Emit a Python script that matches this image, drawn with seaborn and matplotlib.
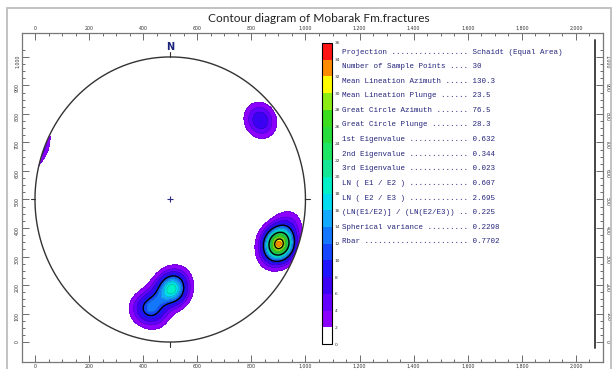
import numpy as np
import pandas as pd
import matplotlib
matplotlib.use("Agg")
import matplotlib.pyplot as plt
import matplotlib.ticker as mticker
from matplotlib.colors import ListedColormap, BoundaryNorm
from matplotlib.lines import Line2D
from matplotlib.patches import Circle, Rectangle
import seaborn as sns

# ---------------------------------------------------------------- data
title = "Contour diagram of Mobarak Fm.fractures"

# projected fracture poles, net units (centre 500,500, primitive radius 500)
pole_x = [903, 900, 907, 905, 899, 896, 910, 886, 922, 915, 882, 938, 874, 912,
          505, 510, 500, 515, 495, 520, 530, 430, 415, 448, 395, 445, 462,
          822, 833, 845]
pole_y = [348, 344, 352, 345, 351, 338, 358, 315, 382, 342, 352, 418, 302, 328,
          185, 190, 180, 192, 200, 165, 220, 125, 112, 138, 118, 92, 160,
          795, 778, 760]

stat_names = ["Projection", "Number of Sample Points", "Mean Lineation Azimuth",
              "Mean Lineation Plunge", "Great Circle Azimuth", "Great Circle Plunge",
              "1st Eigenvalue", "2nd Eigenvalue", "3rd Eigenvalue",
              "LN ( E1 / E2 )", "LN ( E2 / E3 )", "(LN(E1/E2)] / (LN(E2/E3))",
              "Spherical variance", "Rbar"]
stat_values = ["Schaidt (Equal Area)", "30", "130.3", "23.5", "76.5", "28.3",
               "0.632", "0.344", "0.023", "0.607", "2.695", "0.225",
               "0.2298", "0.7702"]

contour_levels = list(range(0, 38, 2))
band_colors = ["#ffffff", "#8c00ff", "#6400ff", "#3c00f5", "#1e14ff", "#1446ff",
               "#1478ff", "#14aaff", "#00dcf0", "#00f0c8", "#14e696", "#1ee664",
               "#28dc3c", "#3cdc1e", "#8cec14", "#ffff00", "#ff8c00", "#ff1414"]
bold_levels = [10, 20, 30]

# ---------------------------------------------------------------- figure
W, H = 613, 369
sns.set_theme(style="white")
plt.rcParams["font.family"] = ["DejaVu Sans"]

fig = plt.figure(figsize=(W / 100, H / 100), dpi=100)
fig.patch.set_facecolor("white")


def fx(px):
    return px / W


def fy(py):
    return 1 - py / H


# outer frame of the panel
fig.add_artist(Rectangle((fx(7), fy(380)), fx(611) - fx(7), fy(8) - fy(380),
                         transform=fig.transFigure, fill=False,
                         edgecolor="#bdbdbd", lw=1.3))

fig.text(fx(319), fy(18), title, ha="center", va="center",
         fontsize=8.6, family=["Lato", "DejaVu Sans"], color="#222222")

ax = fig.add_axes([fx(22), fy(362), (603 - 22) / W, (362 - 33) / H])
ax.set_xlim(-48, 2100)
ax.set_ylim(-70, 1084)
ax.set_facecolor("white")

# ---------------------------------------------------------------- density
sigma = 35.0
kernel_scale = 3.0
gx, gy = np.meshgrid(np.linspace(0, 1000, 321), np.linspace(0, 1000, 321))
px_arr = np.asarray(pole_x, float)
py_arr = np.asarray(pole_y, float)
dx, dy = px_arr - 500, py_arr - 500
rr = np.hypot(dx, dy)
# antipodal images beyond the primitive so counts wrap across the edge
wrap = (1000 - rr) / rr
all_x = np.concatenate([px_arr, 500 - dx * wrap])
all_y = np.concatenate([py_arr, 500 - dy * wrap])
d2 = (gx[..., None] - all_x) ** 2 + (gy[..., None] - all_y) ** 2
density = kernel_scale * np.exp(-d2 / (2 * sigma ** 2)).sum(axis=-1)

cmap = ListedColormap(band_colors)
norm = BoundaryNorm(contour_levels, cmap.N)
prim = Circle((500, 500), 500, transform=ax.transData, facecolor="none",
              edgecolor="none")
ax.add_patch(prim)
cf = ax.contourf(gx, gy, density, levels=contour_levels, cmap=cmap, norm=norm)
cf.set_clip_path(prim)
cl = ax.contour(gx, gy, density, levels=contour_levels[1:], colors="#202020",
                linewidths=0.35, alpha=0.35)
cl.set_clip_path(prim)
cb = ax.contour(gx, gy, density, levels=bold_levels, colors="black",
                linewidths=1.0)
cb.set_clip_path(prim)

# primitive circle and centre mark
theta = np.linspace(0, 2 * np.pi, 361)
circ = pd.DataFrame({"x": 500 + 500 * np.cos(theta),
                     "y": 500 + 500 * np.sin(theta)})
sns.lineplot(data=circ, x="x", y="y", sort=False, estimator=None,
             color="#333333", lw=1.0, ax=ax)
sns.scatterplot(x=[500], y=[500], marker="+", s=18, color="#2a2a80",
                linewidth=0.8, ax=ax)
for (x0, y0, x1, y1) in [(500, 1000, 500, 1016), (500, 0, 500, -16),
                         (0, 500, -16, 500), (1000, 500, 1016, 500)]:
    ax.plot([x0, x1], [y0, y1], color="#333333", lw=0.8)
ax.text(500, 1036, "N", ha="center", va="center", fontsize=7,
        fontweight="bold", color="#1a237e")
ax.set_xlabel("")
ax.set_ylabel("")

# ---------------------------------------------------------------- axes frame
ax.set_xticks(range(0, 2001, 200))
ax.set_yticks(range(0, 1001, 100))
ax.xaxis.set_minor_locator(mticker.FixedLocator(range(0, 2051, 50)))
ax.yaxis.set_minor_locator(mticker.FixedLocator(range(0, 1026, 25)))
ax.xaxis.set_major_formatter(mticker.StrMethodFormatter("{x:,.0f}"))
ax.yaxis.set_major_formatter(mticker.StrMethodFormatter("{x:,.0f}"))
ax.tick_params(which="both", direction="in", top=True, bottom=True,
               left=True, right=True, labeltop=True, labelbottom=True,
               labelleft=True, labelright=True, color="#555555", width=0.6,
               labelsize=3.4, labelcolor="#333333", pad=1.5)
ax.tick_params(which="major", length=5)
ax.tick_params(which="minor", length=2.5)
for t in ax.yaxis.get_major_ticks():
    t.label1.set_rotation(90)
    t.label2.set_rotation(-90)
for sp in ax.spines.values():
    sp.set_color("#777777")
    sp.set_linewidth(0.9)

fig.add_artist(Line2D([fx(595), fx(595)], [fy(40), fy(348)],
                      transform=fig.transFigure, color="#444444", lw=1.4))

# ---------------------------------------------------------------- colour bar
cax = fig.add_axes([fx(322), fy(344), 10 / W, 301 / H])
cbar = fig.colorbar(cf, cax=cax, ticks=contour_levels)
cbar.ax.tick_params(labelsize=3.2, length=0, pad=2, labelcolor="#333333")
cbar.outline.set_edgecolor("black")
cbar.outline.set_linewidth(0.8)

# ---------------------------------------------------------------- statistics
for i, (name, val) in enumerate(zip(stat_names, stat_values)):
    line = f"{name} {'.' * (27 - len(name))} {val}"
    fig.text(fx(342), fy(52 + i * 14.6), line, ha="left", va="center",
             family=["Liberation Mono", "DejaVu Sans Mono"], fontsize=5.4,
             color="#24247c")

fig.savefig("out.png", dpi=100)
